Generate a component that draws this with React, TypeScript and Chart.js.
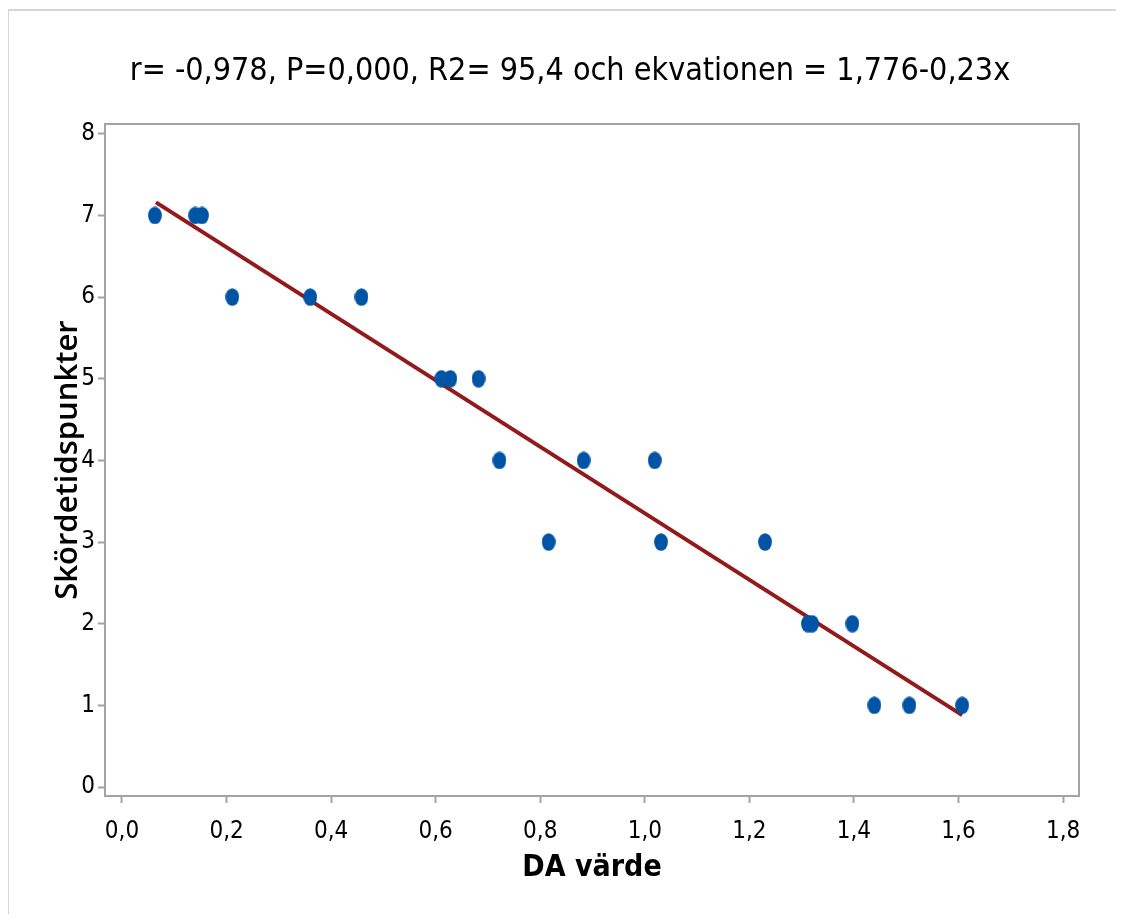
import React, { useEffect, useRef } from "react";
import { Chart, registerables } from "chart.js";

Chart.register(...registerables);

const titleText = "r= -0,978, P=0,000, R2= 95,4 och ekvationen = 1,776-0,23x";
const xAxisTitle = "DA värde";
const yAxisTitle = "Skördetidspunkter";

// Observations (DA värde, Skördetidspunkt)
const daValues = [
  0.063, 0.140, 0.153,
  0.211, 0.360, 0.458,
  0.611, 0.628, 0.682,
  0.722, 0.883, 1.019,
  0.816, 1.031, 1.230,
  1.312, 1.320, 1.397,
  1.439, 1.506, 1.607,
];
const harvestValues = [
  7, 7, 7,
  6, 6, 6,
  5, 5, 5,
  4, 4, 4,
  3, 3, 3,
  2, 2, 2,
  1, 1, 1,
];

// Fitted line end points
const fitX = [0.065, 1.607];
const fitY = [7.16, 0.88];

const xTicks = [0, 0.2, 0.4, 0.6, 0.8, 1.0, 1.2, 1.4, 1.6, 1.8];
const yTicks = [0, 1, 2, 3, 4, 5, 6, 7, 8];

const POINT_COLOR = "#0054A6";
const LINE_COLOR = "#931A1A";
const AXIS_COLOR = "#A3A3A3";
const NARROW = "'Liberation Sans Narrow', 'DejaVu Sans Condensed', 'Liberation Sans', sans-serif";

function makeEllipse(): HTMLCanvasElement {
  const c = document.createElement("canvas");
  c.width = 14;
  c.height = 18;
  const g = c.getContext("2d")!;
  g.fillStyle = POINT_COLOR;
  g.beginPath();
  g.ellipse(7, 9, 6.9, 8.8, 0, 0, Math.PI * 2);
  g.fill();
  return c;
}

const framePlugin = {
  id: "frame",
  afterDraw(chart: any) {
    const { ctx, chartArea } = chart;
    ctx.save();
    ctx.strokeStyle = AXIS_COLOR;
    ctx.lineWidth = 2;
    ctx.strokeRect(chartArea.left, chartArea.top, chartArea.right - chartArea.left, chartArea.bottom - chartArea.top);
    ctx.strokeStyle = "#D6D6D6";
    ctx.lineWidth = 2;
    ctx.beginPath();
    ctx.moveTo(0, 2);
    ctx.lineTo(chart.width, 2);
    ctx.moveTo(0, 2);
    ctx.lineTo(0, chart.height);
    ctx.stroke();
    // chart title
    ctx.fillStyle = "#000";
    ctx.font = "normal 32px " + NARROW;
    ctx.textAlign = "center";
    ctx.textBaseline = "middle";
    ctx.fillText(titleText, 562, 64);
    ctx.restore();
  },
};

export default function App() {
  const ref = useRef<HTMLCanvasElement | null>(null);
  useEffect(() => {
    if (!ref.current) return;
    const ellipse = makeEllipse();
    const points = daValues.map((x, i) => ({ x, y: harvestValues[i] }));
    const line = fitX.map((x, i) => ({ x, y: fitY[i] }));
    const chart = new Chart(ref.current, {
      type: "scatter",
      data: {
        datasets: [
          {
            type: "line",
            data: line,
            borderColor: LINE_COLOR,
            borderWidth: 4,
            pointRadius: 0,
            fill: false,
            order: 2,
          } as any,
          {
            data: points,
            pointStyle: ellipse as any,
            pointRadius: 8,
            backgroundColor: POINT_COLOR,
            borderWidth: 0,
            order: 1,
          },
        ],
      },
      options: {
        responsive: false,
        animation: false,
        layout: { padding: { top: 116, right: 45, bottom: 0, left: 0 } },
        plugins: {
          legend: { display: false },
          tooltip: { enabled: false },
          title: { display: false },
        },
        scales: {
          x: {
            type: "linear",
            min: -0.0325,
            max: 1.8305,
            afterBuildTicks: (s: any) => {
              s.ticks = xTicks.map((v) => ({ value: v }));
            },
            afterFit: (s: any) => {
              s.height = 118;
              s.paddingLeft = 0;
              s.paddingRight = 0;
            },
            ticks: {
              autoSkip: false,
              maxRotation: 0,
              color: "#000",
              padding: 14,
              font: { family: NARROW, size: 24 },
              callback: (v: any) => Number(v).toFixed(1).replace(".", ","),
            },
            grid: { drawOnChartArea: false, drawTicks: true, tickLength: 7, tickWidth: 2, tickColor: AXIS_COLOR },
            border: { display: true, color: AXIS_COLOR, width: 2 },
            title: {
              display: true,
              text: xAxisTitle,
              color: "#000",
              font: { family: NARROW, size: 30, weight: "bold" },
              padding: { top: 0, bottom: 28 },
            },
          },
          y: {
            type: "linear",
            min: -0.11,
            max: 8.12,
            afterBuildTicks: (s: any) => {
              s.ticks = yTicks.map((v) => ({ value: v }));
            },
            afterFit: (s: any) => {
              s.width = 97;
              s.paddingTop = 0;
              s.paddingBottom = 0;
            },
            ticks: {
              autoSkip: false,
              color: "#000",
              padding: 3,
              font: { family: NARROW, size: 24 },
              callback: (v: any) => String(v),
            },
            grid: { drawOnChartArea: false, drawTicks: true, tickLength: 7, tickWidth: 2, tickColor: AXIS_COLOR },
            border: { display: true, color: AXIS_COLOR, width: 2 },
            title: {
              display: true,
              text: yAxisTitle,
              color: "#000",
              font: { family: "'Open Sans', 'Noto Sans', sans-serif", size: 31, weight: "600" },
              padding: { top: 42, bottom: 0 },
            },
          },
        },
      },
      plugins: [framePlugin],
    });
    return () => chart.destroy();
  }, []);
  return (
    <div style={{ width: 1116, height: 906 }}>
      <canvas ref={ref} width={1116} height={906} />
    </div>
  );
}
